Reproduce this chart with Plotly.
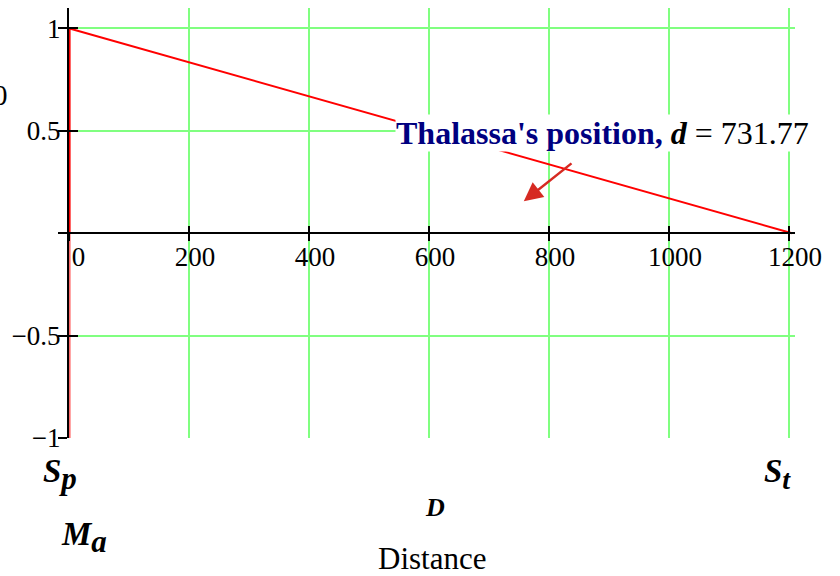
import plotly.graph_objects as go

# ---- data ----
path_x = [1, 1, 1205]          # distance D
path_y = [0, 1, 0]             # normalised value
lower_x = [1, 1]
lower_y = [-1, 0]
arrow_head = (758, 0.156)
arrow_tail = (840, 0.347)
thalassa_d = 731.77
x_tickvals = [0, 200, 400, 600, 800, 1000, 1200]
x_ticktext = ["\u00a00", "200", "400", "600", "800", "1000", "1200"]
y_tickvals = [-1, -0.5, 0, 0.5, 1]
y_ticktext = ["\u22121", "\u22120.5", "", "0.5", "1"]

X_RANGE = [0, 1210]
Y_RANGE = [-1, 1.1]
FONT = "Liberation Serif, Times New Roman, serif"
GRID = "#80ff80"
X_POS = (0 - Y_RANGE[0]) / (Y_RANGE[1] - Y_RANGE[0])

fig = go.Figure()
fig.add_trace(go.Scatter(x=lower_x, y=lower_y, mode="lines",
                         line=dict(color="#ff6a6a", width=2), hoverinfo="skip"))
fig.add_trace(go.Scatter(x=path_x, y=path_y, mode="lines",
                         line=dict(color="#ff0000", width=2), hoverinfo="skip"))
# dummy trace to activate overlay axes (inside tick halves)
fig.add_trace(go.Scatter(x=[None], y=[None], xaxis="x2", yaxis="y2", hoverinfo="skip"))

tickfont = dict(family=FONT, size=27, color="black")
fig.update_layout(
    width=840, height=576,
    margin=dict(l=69, r=45, t=8, b=138),
    paper_bgcolor="white", plot_bgcolor="white",
    showlegend=False,
    font=dict(family=FONT, color="black"),
    xaxis=dict(range=X_RANGE, anchor="free", position=X_POS,
               tickvals=x_tickvals, ticktext=x_ticktext, tickfont=tickfont,
               showgrid=True, gridcolor=GRID, gridwidth=1.5,
               showline=True, linecolor="black", linewidth=2,
               ticks="outside", ticklen=7, tickwidth=2, tickcolor="black",
               ticklabelshift=6, ticklabelstandoff=-8,
               zeroline=False, automargin=False),
    yaxis=dict(range=Y_RANGE, anchor="x",
               tickvals=y_tickvals, ticktext=y_ticktext, tickfont=tickfont,
               showgrid=True, gridcolor=GRID, gridwidth=1.5,
               showline=True, linecolor="black", linewidth=2,
               ticks="outside", ticklen=9, tickwidth=2, tickcolor="black",
               ticklabelstandoff=-8,
               zeroline=False, automargin=False),
    xaxis2=dict(range=X_RANGE, overlaying="x", anchor="free", position=X_POS,
                tickvals=x_tickvals, showticklabels=False, showgrid=False,
                ticks="inside", ticklen=7, tickwidth=2, tickcolor="black",
                showline=False, zeroline=False, automargin=False),
    yaxis2=dict(range=Y_RANGE, overlaying="y", anchor="x",
                tickvals=y_tickvals, showticklabels=False, showgrid=False,
                ticks="inside", ticklen=9, tickwidth=2, tickcolor="black",
                showline=False, zeroline=False, automargin=False),
)

ann = []
# arrow
ann.append(dict(x=arrow_head[0], y=arrow_head[1], ax=arrow_tail[0], ay=arrow_tail[1],
                xref="x", yref="y", axref="x", ayref="y", text="", showarrow=True,
                arrowcolor="#d62a22", arrowwidth=2.5, arrowhead=2, arrowsize=1.5))
# label
ann.append(dict(x=543, y=0.49, xref="x", yref="y", xanchor="left", yanchor="middle",
                showarrow=False, bgcolor="white", borderpad=0,
                text=("<b>Thalassa's position,</b> "
                      "<span style='color:black'><b><i>d</i></b>\u00a0= %.2f</span>" % thalassa_d),
                font=dict(family=FONT, size=32, color="#000080")))
bold_it = dict(family=FONT, size=33, color="black")
def subtxt(main, sub, size=31):
    return "<b><i>%s<sub><span style='font-size:%dpx'>%s</span></sub></i></b>" % (main, size, sub)
ann.append(dict(x=-0.012, y=-0.03, xref="paper", yref="paper", xanchor="center", yanchor="top",
                showarrow=False, text=subtxt("S", "p"), font=bold_it))
ann.append(dict(x=0.976, y=-0.03, xref="paper", yref="paper", xanchor="center", yanchor="top",
                showarrow=False, text=subtxt("S", "t", 28), font=bold_it))
ann.append(dict(x=0.504, y=-0.123, xref="paper", yref="paper", xanchor="center", yanchor="top",
                showarrow=False, text="<b><i>D</i></b>",
                font=dict(family=FONT, size=26, color="black")))
ann.append(dict(x=0.021, y=-0.176, xref="paper", yref="paper", xanchor="center", yanchor="top",
                showarrow=False, text=subtxt("M", "a"), font=bold_it))
ann.append(dict(x=0.5, y=-0.236, xref="paper", yref="paper", xanchor="center", yanchor="top",
                showarrow=False, text="Distance",
                font=dict(family=FONT, size=31, color="black")))
ann.append(dict(x=-0.0813, y=0.7986, xref="paper", yref="paper", xanchor="right", yanchor="middle",
                showarrow=False, text="0",
                font=dict(family=FONT, size=29, color="black")))
fig.update_layout(annotations=ann)

fig.write_html("out.html", config={"displayModeBar": False},
               post_script="document.body.style.margin='0px';")
